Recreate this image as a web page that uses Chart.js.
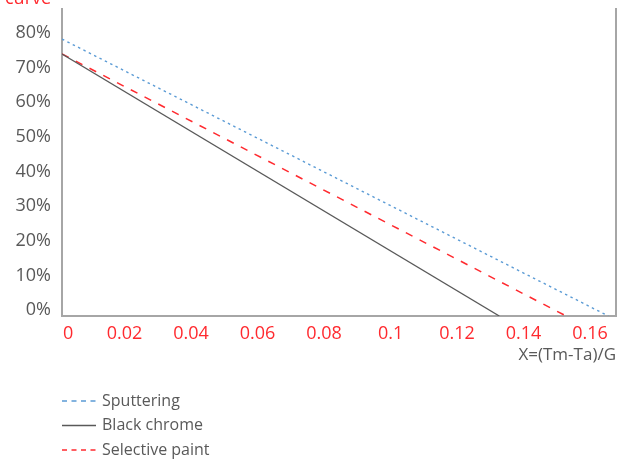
<!DOCTYPE html>
<html>
<head>
<meta charset="utf-8">
<script src="https://cdn.jsdelivr.net/npm/chart.js@4.4.1/dist/chart.umd.min.js"></script>
<style>
  html, body { margin: 0; padding: 0; background: #ffffff; }
  #wrap { width: 628px; height: 461px; }
</style>
</head>
<body>
<div id="wrap"><canvas id="chart" width="628" height="461"></canvas></div>
<script>
// Efficiency curves: efficiency against the reduced temperature X = (Tm-Ta)/G
const seriesNames = ['Sputtering', 'Black chrome', 'Selective paint'];

const sputteringX = [0, 0.1643];
const sputteringY = [0.80, 0];

const blackChromeX = [0, 0.1315];
const blackChromeY = [0.757, 0];

const selectivePaintX = [0, 0.1516];
const selectivePaintY = [0.757, 0];

const xTickValues = [0, 0.02, 0.04, 0.06, 0.08, 0.1, 0.12, 0.14, 0.16];
const yTickValues = [0, 0.1, 0.2, 0.3, 0.4, 0.5, 0.6, 0.7, 0.8];

const xTitle = 'X=(Tm-Ta)/G';
const yTitle = 'curve';

const FONT = 'Open Sans';
const GREY_TEXT = '#595959';
const RED = '#ff2a2f';
const BLUE = '#5b9bd5';
const AXIS = '#a6a6a6';

function toPoints(xs, ys) {
  return xs.map((x, i) => ({ x: x, y: ys[i] }));
}

// Legend drawn as a vertical list under the plot
const sideLegend = {
  id: 'sideLegend',
  afterDraw(chart) {
    const ctx = chart.ctx;
    const x0 = 62, x1 = 96, textX = 102;
    const rows = [401, 425.5, 450];
    const dashes = [[5, 4.5], [], [5, 4.5]];
    ctx.save();
    chart.data.datasets.forEach((ds, i) => {
      const y = rows[i];
      ctx.beginPath();
      ctx.setLineDash(dashes[i]);
      ctx.lineWidth = 1.3;
      ctx.strokeStyle = ds.borderColor;
      ctx.moveTo(x0, y);
      ctx.lineTo(x1, y);
      ctx.stroke();
      ctx.setLineDash([]);
      ctx.fillStyle = GREY_TEXT;
      ctx.font = '16px "' + FONT + '"';
      ctx.textAlign = 'left';
      ctx.textBaseline = 'middle';
      ctx.fillText(ds.label, textX, y);
    });
    ctx.restore();
  }
};

// Vertical-axis caption at the top-left corner
const cornerCaption = {
  id: 'cornerCaption',
  afterDraw(chart) {
    const ctx = chart.ctx;
    ctx.save();
    ctx.fillStyle = RED;
    ctx.font = '18px "' + FONT + '"';
    ctx.textAlign = 'left';
    ctx.textBaseline = 'alphabetic';
    ctx.fillText(yTitle, 5, 4);
    ctx.restore();
  }
};

// Keep the first horizontal-axis label inside the plot area
const firstLabelInside = {
  id: 'firstLabelInside',
  beforeDraw(chart) {
    const scale = chart.scales.x;
    const items = scale.getLabelItems();
    if (!items.length || items[0]._shifted) return;
    const it = items[0];
    const ctx = chart.ctx;
    ctx.save();
    ctx.font = it.font.string;
    const w = ctx.measureText(String(it.label)).width;
    ctx.restore();
    const left = it.options.translation[0] - w / 2;
    const minLeft = chart.chartArea.left + 1;
    if (left < minLeft) it.options.translation[0] += (minLeft - left);
    it._shifted = true;
  }
};

new Chart(document.getElementById('chart'), {
  type: 'scatter',
  data: {
    datasets: [
      {
        label: seriesNames[0],
        data: toPoints(sputteringX, sputteringY),
        showLine: true,
        borderColor: BLUE,
        borderWidth: 1.4,
        borderDash: [2.5, 3.5],
        pointRadius: 0
      },
      {
        label: seriesNames[1],
        data: toPoints(blackChromeX, blackChromeY),
        showLine: true,
        borderColor: '#595959',
        borderWidth: 1.3,
        pointRadius: 0
      },
      {
        label: seriesNames[2],
        data: toPoints(selectivePaintX, selectivePaintY),
        showLine: true,
        borderColor: RED,
        borderWidth: 1.5,
        borderDash: [7.5, 8],
        pointRadius: 0
      }
    ]
  },
  options: {
    responsive: false,
    animation: false,
    events: [],
    layout: { padding: { top: 9, right: 12, left: 0, bottom: 0 } },
    plugins: {
      legend: { display: false },
      tooltip: { enabled: false }
    },
    scales: {
      x: {
        type: 'linear',
        position: 'bottom',
        min: 0,
        max: 0.1666,
        afterBuildTicks: (s) => { s.ticks = xTickValues.map(v => ({ value: v })); },
        afterFit: (s) => { s.height = 145; s.paddingLeft = 0; s.paddingRight = 0; },
        grid: { display: false, drawTicks: false },
        border: { display: true, color: AXIS, width: 2 },
        ticks: {
          color: RED,
          font: { family: FONT, size: 18 },
          padding: 7,
          labelOffset: -4,
          maxRotation: 0,
          autoSkip: false,
          callback: (v) => String(+Number(v).toFixed(2))
        },
        title: {
          display: true,
          text: xTitle,
          align: 'end',
          color: GREY_TEXT,
          font: { family: FONT, size: 17 },
          padding: { top: 0, bottom: 96 }
        }
      },
      y: {
        type: 'linear',
        position: 'left',
        min: 0,
        max: 0.887,
        afterBuildTicks: (s) => { s.ticks = yTickValues.map(v => ({ value: v })); },
        afterFit: (s) => { s.width = 62; s.paddingTop = 0; s.paddingBottom = 0; },
        grid: { display: false, drawTicks: false },
        border: { display: true, color: AXIS, width: 2 },
        ticks: {
          color: GREY_TEXT,
          font: { family: FONT, size: 18 },
          padding: 11,
          labelOffset: -6,
          autoSkip: false,
          callback: (v) => Math.round(v * 100) + '%'
        }
      },
      yRight: {
        type: 'linear',
        position: 'right',
        min: 0,
        max: 0.887,
        afterFit: (s) => { s.width = 0; s.paddingTop = 0; s.paddingBottom = 0; },
        grid: { display: false, drawTicks: false },
        border: { display: true, color: AXIS, width: 2 },
        ticks: { display: false }
      }
    }
  },
  plugins: [firstLabelInside, sideLegend, cornerCaption]
});
</script>
</body>
</html>
